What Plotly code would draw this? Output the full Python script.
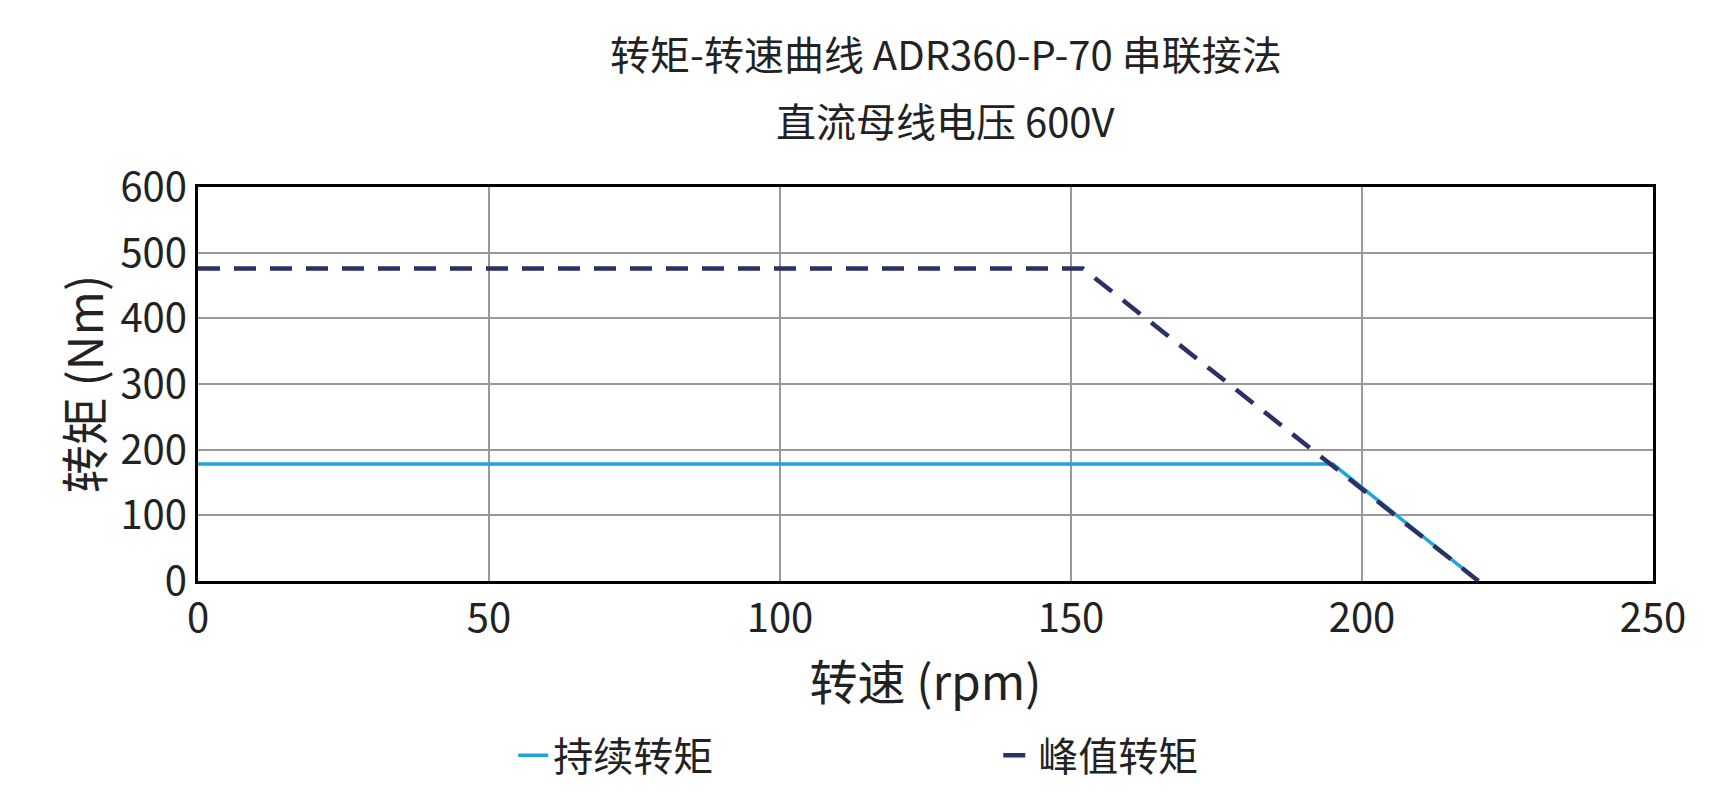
import plotly.graph_objects as go

cont_speed = [0, 195, 220]
cont_torque = [178, 178, 0]
peak_speed = [0, 152, 220]
peak_torque = [476, 476, 0]
x_ticks = [0, 50, 100, 150, 200, 250]
y_ticks = [0, 100, 200, 300, 400, 500, 600]

F = "Noto Sans CJK SC"
fig = go.Figure()
fig.add_trace(go.Scatter(x=cont_speed, y=cont_torque, mode="lines", name="持续转矩",
                         line=dict(color="#1ea5dc", width=3.5)))
fig.add_trace(go.Scatter(x=peak_speed, y=peak_torque, mode="lines", name="峰值转矩",
                         line=dict(color="#2b3066", width=4.5, dash="22px,14px")))
fig.add_annotation(text="转矩-转速曲线 ADR360-P-70 串联接法", x=938, y=792-44, xref="x domain", yref="paper",
                   showarrow=False, font=dict(size=40))
fig.update_layout(
    width=1734, height=792, plot_bgcolor="white", paper_bgcolor="white",
    margin=dict(l=190, r=89, t=179, b=216),
    font=dict(family=F, color="#222", size=40),
    annotations=[
        dict(text="转矩-转速曲线 ADR360-P-70 串联接法", x=938/1734, y=1-44/792, xref="paper", yref="paper",
             xanchor="center", yanchor="middle", showarrow=False, font=dict(size=40), yshift=0),
        dict(text="直流母线电压 600V", x=938/1734, y=1-111/792, xref="paper", yref="paper",
             xanchor="center", yanchor="middle", showarrow=False, font=dict(size=40)),
    ],
    legend=dict(orientation="h", x=0.55, xanchor="center", y=-0.36, yanchor="top",
                font=dict(size=40), entrywidth=440),
    showlegend=True,
)
# convert paper-y annotations to full-figure coordinates via yref="paper" relative to plot area
h_plot = 792 - 179 - 216
for a in fig.layout.annotations:
    pass
fig.layout.annotations = [
    dict(text="转矩-转速曲线 ADR360-P-70 串联接法", x=(938-190)/(1734-279), y=(792-216-44)/h_plot,
         xref="paper", yref="paper", xanchor="center", yanchor="middle", showarrow=False, font=dict(size=40)),
    dict(text="直流母线电压 600V", x=(938-190)/(1734-279), y=(792-216-111)/h_plot,
         xref="paper", yref="paper", xanchor="center", yanchor="middle", showarrow=False, font=dict(size=40)),
]
fig.update_xaxes(range=[0, 250], tickvals=x_ticks, showgrid=True, gridcolor="#999", gridwidth=1.5,
                 showline=True, linecolor="black", linewidth=3, mirror=True, ticks="",
                 title=dict(text="转速 (rpm)", standoff=2), zeroline=False)
fig.update_yaxes(range=[0, 600], tickvals=y_ticks, showgrid=True, gridcolor="#999", gridwidth=1.5,
                 showline=True, linecolor="black", linewidth=3, mirror=True, ticks="",
                 title=dict(text="转矩 (Nm)", standoff=2), zeroline=False)
fig.write_html("out.html")
